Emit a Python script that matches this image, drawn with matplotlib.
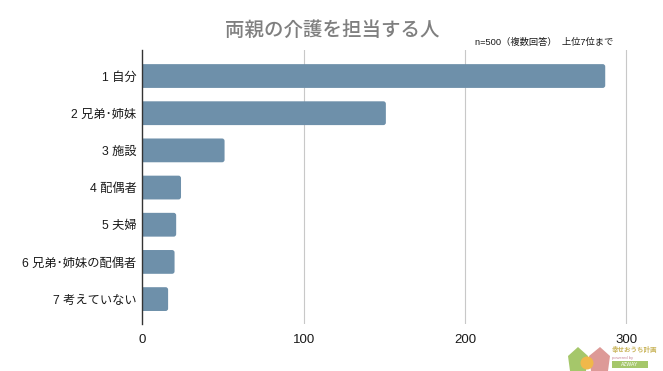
import matplotlib
matplotlib.use('Agg')
import matplotlib.pyplot as plt
from matplotlib.patches import FancyBboxPatch, Polygon, Circle, Rectangle

plt.rcParams['font.family'] = ['Liberation Sans', 'Noto Sans CJK JP', 'DejaVu Sans']

labels = ['1 自分', '2 兄弟･姉妹', '3 施設', '4 配偶者', '5 夫婦', '6 兄弟･姉妹の配偶者', '7 考えていない']
values = [287, 151, 51, 24, 21, 20, 16]
xticks = [0, 100, 200, 300]

W, H = 663, 371
bar_color = '#6e90aa'

fig = plt.figure(figsize=(W / 100, H / 100), dpi=100)
ax = fig.add_axes([142.3 / W, 1 - 324 / H, (660 - 142.3) / W, (324 - 50) / H])
ax.set_xlim(0, (660 - 142.3) / 1.613)
ax.set_ylim(6.67, -0.7)

# rounded bars, started left of zero so the left corners get clipped by the axes
px_x = 1.613
px_y = 37.2
for i, v in enumerate(values):
    box = FancyBboxPatch((-3, i - 0.32), v + 3, 0.64,
                         boxstyle='round,pad=0,rounding_size=%f' % (2.5 / px_x),
                         mutation_aspect=px_x / px_y,
                         fc=bar_color, ec='none', zorder=3)
    ax.add_patch(box)

ax.set_yticks(range(len(labels)))
ax.set_yticklabels(labels, fontsize=8.8, color='#1a1a1a')
ax.set_xticks(xticks)
ax.tick_params(axis='x', length=0, labelsize=9.5, pad=7, labelcolor='#1a1a1a')
ax.tick_params(axis='y', length=0, pad=4.2)
ax.grid(axis='x', color='#c8c8c8', lw=0.8, zorder=1)
ax.set_axisbelow(True)
for s in ['top', 'right', 'bottom']:
    ax.spines[s].set_visible(False)
ax.spines['left'].set_color('#333333')
ax.spines['left'].set_linewidth(1.0)
ax.spines['left'].set_zorder(5)
ax.xaxis.get_major_ticks()[0].gridline.set_visible(False)

fig.text(332 / W, 1 - 30 / H, '両親の介護を担当する人', fontsize=14, fontweight='medium',
         color='#7f7f7f', ha='center', va='center')
fig.text(475 / W, 1 - 42 / H, 'n=500（複数回答）  上位7位まで', fontsize=6.7,
         color='#1a1a1a', ha='left', va='center')

# small logo, bottom right
logo = fig.add_axes([0, 0, 1, 1], zorder=10)
logo.set_xlim(0, W)
logo.set_ylim(H, 0)
logo.axis('off')
logo.patch.set_alpha(0)
logo.add_patch(Polygon([(568, 356), (578, 347), (588, 356), (586, 371), (570, 371)], fc='#a5c76a', ec='none'))
logo.add_patch(Polygon([(589, 356), (600, 347), (610, 356), (608, 371), (591, 371)], fc='#dd9a97', ec='none'))
logo.add_patch(Circle((587, 363), 6.5, fc='#f0b84a', ec='none'))
logo.text(612, 350.5, '幸せおうち計画', fontsize=4.7, color='#c9b45a', fontweight='bold', va='center')
logo.text(612, 357.5, 'powered by', fontsize=3, color='#c98a9a', va='center')
logo.add_patch(Rectangle((612, 361), 36, 6.5, fc='#a5c76a', ec='none'))
logo.text(630, 364.2, 'AZWAY', fontsize=3.6, color='white', ha='center', va='center')

fig.savefig('out.png', dpi=100)
